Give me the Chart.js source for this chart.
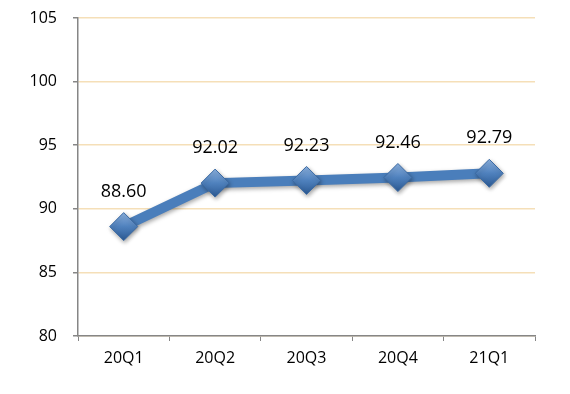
<!DOCTYPE html>
<html>
<head>
<meta charset="utf-8">
<script src="https://cdn.jsdelivr.net/npm/chart.js@4/dist/chart.umd.min.js"></script>
<style>
  html, body { margin: 0; padding: 0; background: #fff; }
  #wrap { width: 570px; height: 394px; }
</style>
</head>
<body>
<div id="wrap"><canvas id="chart" width="570" height="394"></canvas></div>
<script>
const categories = ["20Q1", "20Q2", "20Q3", "20Q4", "21Q1"]
const values = [88.60, 92.02, 92.23, 92.46, 92.79]
const yMin = 80
const yMax = 105
const yStep = 5

/* value labels above each point */
const valueLabels = {
  id: "valueLabels",
  afterDatasetsDraw(chart) {
    const ctx = chart.ctx
    const meta = chart.getDatasetMeta(0)
    ctx.save()
    ctx.font = "18px 'Open Sans'"
    ctx.fillStyle = "#000"
    ctx.textAlign = "center"
    ctx.textBaseline = "middle"
    meta.data.forEach((pt, i) => {
      ctx.fillText(values[i].toFixed(2), pt.x, pt.y - 35)
    })
    ctx.restore()
  }
}

/* soft shadow under the line */
const lineShadow = {
  id: "lineShadow",
  beforeDatasetDraw(chart) {
    const ctx = chart.ctx
    ctx.save()
    ctx.shadowColor = "rgba(0,0,0,0.35)"
    ctx.shadowBlur = 4
    ctx.shadowOffsetX = 1
    ctx.shadowOffsetY = 2
  },
  afterDatasetDraw(chart) {
    chart.ctx.restore()
  }
}

function diamondFill(context) {
  const el = context.element
  const c = context.chart.ctx
  if (!el || el.y === undefined) return "#4f81bd"
  const g = c.createLinearGradient(el.x, el.y - 14, el.x, el.y + 14)
  g.addColorStop(0, "#8db3e2")
  g.addColorStop(0.5, "#4f81bd")
  g.addColorStop(1, "#2c5a94")
  return g
}

new Chart(document.getElementById("chart"), {
  type: "line",
  data: {
    labels: categories,
    datasets: [
      {
        data: values,
        borderColor: "#4a7ebb",
        borderWidth: 10,
        tension: 0,
        pointStyle: "rectRot",
        pointRadius: 14,
        pointBackgroundColor: diamondFill,
        pointBorderColor: "#3b6aa3",
        pointBorderWidth: 1
      }
    ]
  },
  options: {
    responsive: false,
    animation: false,
    layout: {
      padding: { left: 0, right: 35, top: 18, bottom: 0 }
    },
    plugins: {
      legend: { display: false },
      tooltip: { enabled: false }
    },
    scales: {
      x: {
        offset: true,
        grid: {
          offset: true,
          drawOnChartArea: false,
          drawTicks: true,
          tickLength: 5,
          tickColor: "#868686"
        },
        border: { color: "#868686", width: 1.5 },
        ticks: {
          padding: 8,
          color: "#000",
          font: { family: "'Open Sans'", size: 16 }
        },
        afterFit(scale) { scale.height = 58 }
      },
      y: {
        min: yMin,
        max: yMax,
        grid: {
          color: "#f5dfb8",
          lineWidth: 1.5,
          tickLength: 5,
          tickColor: "#868686"
        },
        border: { color: "#868686", width: 1.5 },
        ticks: {
          stepSize: yStep,
          padding: 16,
          color: "#000",
          font: { family: "'Open Sans'", size: 16 }
        },
        afterFit(scale) {
          scale.width = 78
          scale.paddingTop = 8
          scale.paddingBottom = 8
        }
      }
    }
  },
  plugins: [lineShadow, valueLabels]
})
</script>
</body>
</html>
